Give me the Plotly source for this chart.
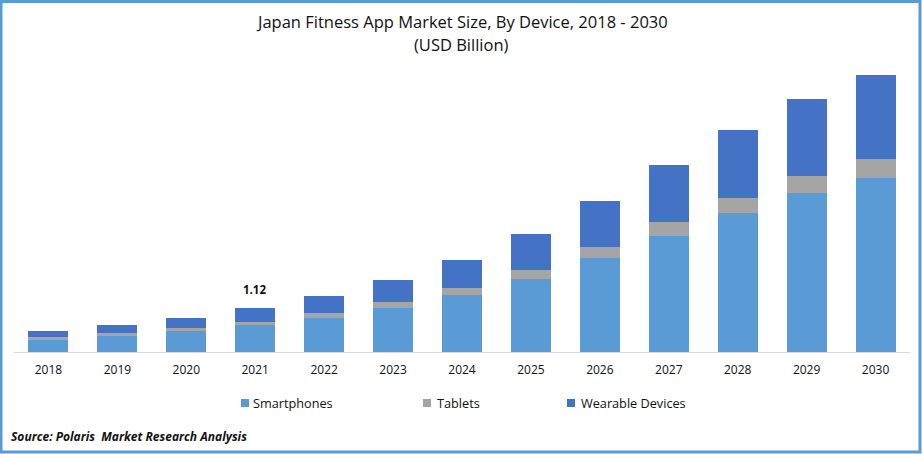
import plotly.graph_objects as go

years = ["2018","2019","2020","2021","2022","2023","2024","2025","2026","2027","2028","2029","2030"]
smartphones = [.33,.41,.53,.69,.87,1.12,1.45,1.86,2.39,2.95,3.54,4.05,4.43]
tablets = [.05,.08,.08,.08,.13,.15,.18,.23,.28,.36,.38,.43,.48]
wearables = [.15,.20,.25,.35,.43,.56,.71,.92,1.17,1.45,1.73,1.96,2.14]
series_names = ["Smartphones", "Tablets", "Wearable Devices"]
series_colors = ["#5B9BD5", "#A5A5A5", "#4472C4"]
label_year = "2021"
label_value = "1.12"
label_total = 1.12

FONT = "Open Sans"
W, H = 922, 454
L, R, T, B = 14, 12, 60, 102
PW, PH = W - L - R, H - T - B
def px(x): return (x - L) / PW
def py(y): return 1 - (y - T) / PH

fig = go.Figure()
for name, vals, col in zip(series_names, [smartphones, tablets, wearables], series_colors):
    fig.add_bar(x=years, y=vals, name=name, marker=dict(color=col, line_width=0))

annotations = [
    dict(x=years.index(label_year), y=label_total, xref="x", yref="y", text=f"<b>{label_value}</b>",
         showarrow=False, yshift=18, xshift=-1, font=dict(size=11.5, color="#111111")),
    dict(x=px(10), y=py(436), xref="paper", yref="paper", xanchor="left", yanchor="middle", showarrow=False,
         xshift=-1, text="<b><i>Source: Polaris  Market Research Analysis</i></b>", font=dict(size=12, color="#111111")),
    dict(x=px(461.5), y=py(22), xref="paper", yref="paper", showarrow=False, yanchor="middle",
         text="Japan Fitness App Market Size, By Device, 2018 - 2030", font=dict(size=16.5, color="#111111")),
    dict(x=px(461.5), y=py(45), xref="paper", yref="paper", showarrow=False, yanchor="middle",
         text="(USD Billion)", font=dict(size=16.5, color="#111111")),
]
shapes = [dict(type="rect", xref="paper", yref="paper", x0=px(1), x1=px(920), y0=py(452), y1=py(1.5),
               line=dict(color="#5B9BD5", width=3), fillcolor="rgba(0,0,0,0)", layer="above")]
for name, col, x0, tx in zip(series_names, series_colors, [241, 423, 567], [251, 435, 579]):
    shapes.append(dict(type="rect", xref="paper", yref="paper", x0=px(x0), x1=px(x0 + 8), y0=py(407), y1=py(399),
                       fillcolor=col, line_width=0))
    annotations.append(dict(x=px(tx), y=py(403), xref="paper", yref="paper", xanchor="left", yanchor="middle",
                            showarrow=False, text=name, font=dict(size=12.7, color="#111111")))

fig.update_layout(
    barmode="stack", bargap=0.42, width=W, height=H, showlegend=False,
    margin=dict(l=L, r=R, t=T, b=B),
    paper_bgcolor="white", plot_bgcolor="white",
    font=dict(family=FONT, color="#111111", size=12),
    xaxis=dict(type="category", range=[-0.5, 12.5], showline=True, linecolor="#D9D9D9", linewidth=1, ticks="",
               ticklabelstandoff=7, tickfont=dict(size=12)),
    yaxis=dict(range=[0, 7.43], visible=False),
    annotations=annotations, shapes=shapes,
)
fig.write_html("out.html", config=dict(displayModeBar=False), post_script="document.body.style.margin='0';")
